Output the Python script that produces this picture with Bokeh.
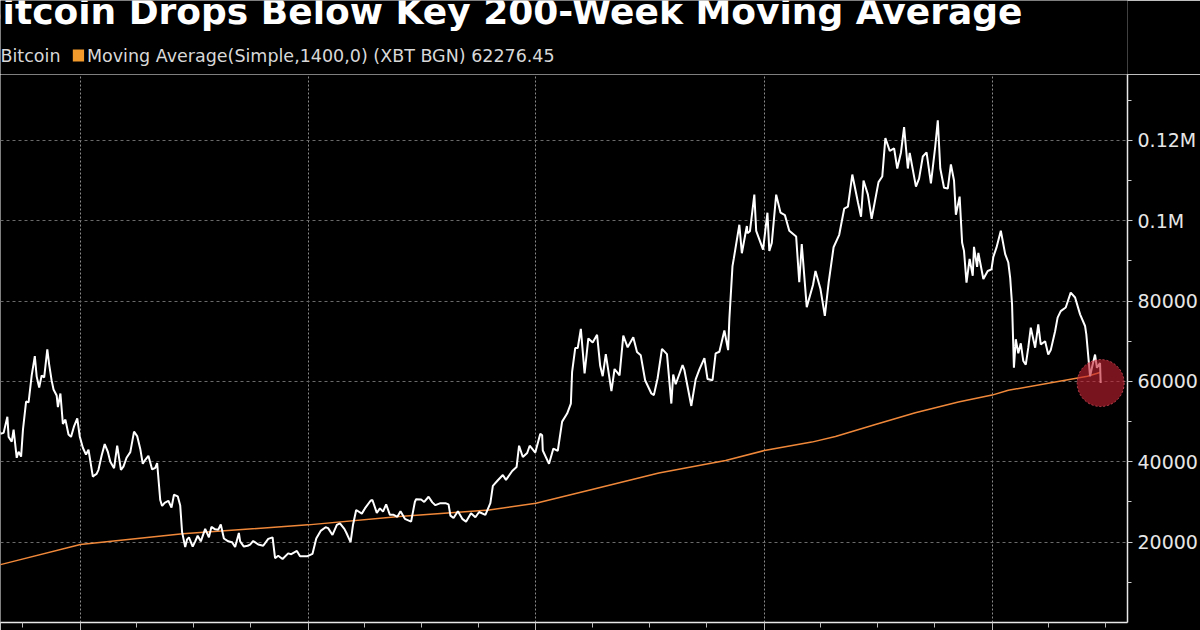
import pandas as pd
from bokeh.plotting import figure
from bokeh.layouts import column
from bokeh.models import Range1d, FixedTicker
from bokeh.core.properties import value
from bokeh.embed import file_html
from bokeh.resources import INLINE

# ---------------- data ----------------
title_text = "Bitcoin Drops Below Key 200-Week Moving Average"
legend_labels = ["Bitcoin", "Moving Average(Simple,1400,0) (XBT BGN) 62276.45"]

btc_dates = [
    "2021-08-20", "2021-08-26", "2021-08-31", "2021-09-06", "2021-09-08", "2021-09-13", "2021-09-16",
    "2021-09-21", "2021-09-24", "2021-09-28", "2021-10-01", "2021-10-06", "2021-10-10", "2021-10-15",
    "2021-10-20", "2021-10-23", "2021-10-27", "2021-10-31", "2021-11-04", "2021-11-09", "2021-11-12",
    "2021-11-16", "2021-11-19", "2021-11-24", "2021-11-26", "2021-11-30", "2021-12-04", "2021-12-08",
    "2021-12-13", "2021-12-17", "2021-12-22", "2021-12-27", "2021-12-31",
    "2022-01-05", "2022-01-10", "2022-01-14", "2022-01-21", "2022-01-24", "2022-01-27", "2022-01-30",
    "2022-02-04", "2022-02-09", "2022-02-14", "2022-02-18", "2022-02-24", "2022-03-01", "2022-03-07",
    "2022-03-11", "2022-03-16", "2022-03-22", "2022-03-28", "2022-04-02", "2022-04-07", "2022-04-11",
    "2022-04-15", "2022-04-20", "2022-04-26", "2022-05-01", "2022-05-04", "2022-05-09", "2022-05-12",
    "2022-05-16", "2022-05-22", "2022-05-27", "2022-05-31", "2022-06-06", "2022-06-10", "2022-06-13",
    "2022-06-18", "2022-06-21", "2022-06-24", "2022-06-30", "2022-07-04", "2022-07-08", "2022-07-13",
    "2022-07-20", "2022-07-26", "2022-07-30", "2022-08-05", "2022-08-10", "2022-08-14", "2022-08-19",
    "2022-08-26", "2022-09-01", "2022-09-06", "2022-09-12", "2022-09-14", "2022-09-20", "2022-09-26",
    "2022-09-30", "2022-10-05", "2022-10-13", "2022-10-21", "2022-10-29", "2022-11-05", "2022-11-09",
    "2022-11-14", "2022-11-21", "2022-11-30", "2022-12-05", "2022-12-14", "2022-12-19", "2022-12-31",
    "2023-01-08", "2023-01-14", "2023-01-21", "2023-01-29", "2023-02-02", "2023-02-09", "2023-02-16",
    "2023-02-21", "2023-02-28", "2023-03-03", "2023-03-10", "2023-03-14", "2023-03-19", "2023-03-28",
    "2023-04-02", "2023-04-11", "2023-04-14", "2023-04-21", "2023-04-26", "2023-05-01", "2023-05-06",
    "2023-05-12", "2023-05-18", "2023-05-24", "2023-05-29", "2023-06-05", "2023-06-15", "2023-06-21",
    "2023-06-23", "2023-07-01", "2023-07-06", "2023-07-13", "2023-07-19", "2023-07-24", "2023-08-01",
    "2023-08-09", "2023-08-14", "2023-08-17", "2023-08-22", "2023-08-29", "2023-09-05", "2023-09-11",
    "2023-09-19", "2023-09-26", "2023-10-02", "2023-10-12", "2023-10-20", "2023-10-24", "2023-11-01",
    "2023-11-09", "2023-11-14", "2023-11-24", "2023-12-01", "2023-12-05", "2023-12-11", "2023-12-18",
    "2023-12-22", "2023-12-31",
    "2024-01-08", "2024-01-11", "2024-01-12", "2024-01-22", "2024-01-29", "2024-02-05", "2024-02-12",
    "2024-02-20", "2024-02-26", "2024-02-28", "2024-03-04", "2024-03-08", "2024-03-13", "2024-03-19",
    "2024-03-25", "2024-04-01", "2024-04-08", "2024-04-13", "2024-04-17", "2024-04-22", "2024-05-01",
    "2024-05-06", "2024-05-14", "2024-05-20", "2024-05-27", "2024-06-05", "2024-06-11", "2024-06-17",
    "2024-06-24", "2024-07-04", "2024-07-08", "2024-07-14", "2024-07-21", "2024-07-29", "2024-08-05",
    "2024-08-08", "2024-08-12", "2024-08-23", "2024-08-26", "2024-09-06", "2024-09-13", "2024-09-19",
    "2024-09-27", "2024-10-02", "2024-10-10", "2024-10-15", "2024-10-21", "2024-10-29", "2024-11-04",
    "2024-11-06", "2024-11-11", "2024-11-13", "2024-11-22", "2024-11-26", "2024-12-04", "2024-12-05",
    "2024-12-09", "2024-12-16", "2024-12-19", "2024-12-30",
    "2025-01-06", "2025-01-09", "2025-01-13", "2025-01-20", "2025-01-27", "2025-02-03", "2025-02-10",
    "2025-02-21", "2025-02-26", "2025-03-02", "2025-03-10", "2025-03-20", "2025-03-24", "2025-04-01",
    "2025-04-08", "2025-04-14", "2025-04-22", "2025-05-01", "2025-05-09", "2025-05-15", "2025-05-22",
    "2025-05-31", "2025-06-05", "2025-06-09", "2025-06-16", "2025-06-22", "2025-07-03", "2025-07-09",
    "2025-07-14", "2025-07-21", "2025-07-28", "2025-08-02", "2025-08-08", "2025-08-13", "2025-08-19",
    "2025-08-22", "2025-09-01", "2025-09-06", "2025-09-12", "2025-09-18", "2025-09-25", "2025-10-02",
    "2025-10-06", "2025-10-10", "2025-10-16", "2025-10-22", "2025-10-27", "2025-11-01", "2025-11-04",
    "2025-11-10", "2025-11-14", "2025-11-17", "2025-11-21", "2025-11-26", "2025-12-01", "2025-12-03",
    "2025-12-08", "2025-12-10", "2025-12-18", "2025-12-25", "2025-12-31",
    "2026-01-03", "2026-01-08", "2026-01-15", "2026-01-22", "2026-01-27", "2026-01-30", "2026-02-02",
    "2026-02-05", "2026-02-08", "2026-02-12", "2026-02-16", "2026-02-20", "2026-02-24", "2026-02-28",
    "2026-03-04", "2026-03-11", "2026-03-16", "2026-03-20", "2026-03-27", "2026-04-01", "2026-04-05",
    "2026-04-12", "2026-04-16", "2026-04-21", "2026-04-29", "2026-05-07", "2026-05-14", "2026-05-22",
    "2026-05-30", "2026-06-01", "2026-06-07", "2026-06-10", "2026-06-15", "2026-06-18", "2026-06-23",
    "2026-06-24",
]
btc_values = [
    49000, 47000, 47200, 51200, 46200, 45000, 48000,
    41000, 42500, 41300, 48000, 55000, 54800, 61500,
    66300, 61200, 58500, 61500, 61000, 68000, 64200,
    60200, 58000, 56500, 53600, 57000, 49400, 50500,
    46800, 46200, 48900, 50800, 46300,
    43500, 41800, 43000, 36300, 36700, 37000, 38000,
    41500, 44400, 42500, 40000, 38400, 44000, 38000,
    38800, 41000, 42400, 47500, 46400, 43200, 39500,
    40500, 41500, 38100, 38500, 39700, 30500, 29000,
    29800, 30300, 28600, 31800, 31400, 29100, 22500,
    18800, 20700, 21200, 18900, 20200, 21600, 20200,
    23300, 21200, 23800, 23200, 23100, 24400, 20900,
    20200, 20000, 18800, 22300, 20200, 18900, 19100,
    19400, 20300, 19400, 19100, 20800, 21200, 16000,
    16600, 15800, 17200, 17000, 17800, 16500, 16500,
    17100, 20900, 22800, 23700, 23500, 21800, 24300,
    24700, 23300, 22400, 20000, 24400, 28000, 27100,
    28400, 30300, 30500, 27300, 28400, 27600, 29400,
    26800, 26800, 26300, 27700, 25800, 25100, 30000,
    30700, 30600, 30000, 31300, 29900, 29200, 29700,
    29700, 29400, 26600, 26000, 27700, 25800, 25100,
    27200, 26200, 27500, 26800, 29700, 34000, 35400,
    36700, 35500, 37700, 38700, 44000, 41200, 42200,
    44000, 42300,
    47000, 46600, 42800, 39500, 43300, 42700, 50000,
    52000, 54500, 62400, 68300, 68300, 73100, 62000,
    70700, 69700, 71600, 63900, 61300, 66800, 57600,
    63100, 61500, 71400, 68500, 71000, 67300, 66500,
    60300, 57000, 56600, 60800, 68100, 66800, 54500,
    61700, 59300, 64100, 62800, 53900, 60500, 63000,
    65800, 60600, 60300, 67000, 67400, 72700, 67800,
    75600, 88700, 90500, 99000, 91900, 98700, 96900,
    97400, 106500, 97500, 92800,
    102000, 92500, 94500, 106500, 102000, 101400, 97500,
    96100, 84700, 94200, 78500, 84000, 87500, 83000,
    76300, 84500, 93400, 96500, 103000, 103500, 111500,
    104600, 101000, 110000, 106500, 100500, 109600, 111000,
    120600, 117400, 118000, 113000, 117000, 123300, 113000,
    116900, 108500, 110500, 116000, 117000, 109300, 118600,
    125000, 113000, 108200, 108000, 114000, 110000, 101500,
    106000, 94500, 92500, 84600, 90500, 86300, 93500,
    88500, 92000, 85500, 87500, 87900,
    91000, 93300, 97500, 91700, 89600, 85800, 79200,
    63400, 70500, 67000, 69500, 65100, 64200, 68400,
    73400, 68400, 74200, 69200, 70000, 66700, 67800,
    72500, 75900, 77500, 78400, 82100, 80900, 76700,
    73800, 71700, 61300, 63400, 66700, 63400, 64600,
    59600,
]

ma_dates = [
    "2021-08-20", "2021-08-26", "2022-01-01", "2022-06-14", "2023-01-01", "2023-05-27",
    "2023-10-18", "2024-01-01", "2024-03-26", "2024-07-16", "2024-10-31", "2025-01-01",
    "2025-03-18", "2025-04-25", "2025-06-28", "2025-08-31", "2025-11-08", "2026-01-01",
    "2026-01-27", "2026-06-03", "2026-06-24",
]
ma_values = [
    14300, 14400, 19400, 22100, 24300, 26400,
    28000, 29700, 32900, 37200, 40300, 42800,
    44900, 46300, 49300, 52200, 54900, 56600,
    57800, 61300, 62276.45,
]

year_ticks = ["2022-01-01", "2023-01-01", "2024-01-01", "2025-01-01", "2026-01-01"]
quarter_ticks = [
    "2021-10-01",
    "2022-04-01", "2022-07-01", "2022-10-01",
    "2023-04-01", "2023-07-01", "2023-10-01",
    "2024-04-01", "2024-07-01", "2024-10-01",
    "2025-04-01", "2025-07-01", "2025-10-01",
    "2026-04-01", "2026-07-01",
]
y_ticks = [20000, 40000, 60000, 80000, 100000, 120000]
y_tick_labels = ["20000", "40000", "60000", "80000", "0.1M", "0.12M"]
y_minor_ticks = [10000, 30000, 50000, 70000, 90000, 110000, 130000]
x_window = ["2021-08-26", "2026-08-06"]
y_window = [0, 136400]

# ---------------- helpers ----------------
def ms(d):
    return pd.Timestamp(d).value // 10**6

btc_x = pd.to_datetime(btc_dates)
ma_x = pd.to_datetime(ma_dates)

BG = "#000000"
FONT = "DejaVu Sans"

# ---------------- header (title + legend) ----------------
header = figure(width=1200, height=74, x_range=Range1d(0, 1200), y_range=Range1d(74, 0),
                output_backend="svg", toolbar_location=None,
                x_axis_location=None, y_axis_location=None,
                background_fill_color=BG, border_fill_color=BG, outline_line_color=None,
                min_border=0)
header.grid.visible = False

header.text(x=[-27], y=[11], text=[title_text], text_font=value(FONT), text_font_style="bold",
            text_font_size="36px", text_color="#ffffff", text_baseline="middle")

header.rect(x=[-10], y=[55], width=12, height=12, fill_color="#ffffff", line_color=None)
header.text(x=[0], y=[55], text=[legend_labels[0]], text_font=value(FONT), text_font_size="17.5px",
            text_color="#d8d8d8", text_baseline="middle")
header.rect(x=[83], y=[55], width=12, height=12, fill_color="#f39a2c", line_color=None)
header.text(x=[92], y=[55], text=[legend_labels[1]], text_font=value(FONT), text_font_size="17.5px",
            text_color="#d8d8d8", text_baseline="middle")

# ---------------- main chart ----------------
p = figure(width=1200, height=556, x_axis_type="datetime", y_axis_location="right",
           x_range=Range1d(pd.Timestamp(x_window[0]), pd.Timestamp(x_window[1])),
           y_range=Range1d(y_window[0], y_window[1]),
           output_backend="svg", toolbar_location=None,
           background_fill_color=BG, border_fill_color=BG, outline_line_color=None,
           min_border_left=0, min_border_top=0, min_border_right=70, min_border_bottom=8)

xt = FixedTicker(ticks=[ms(d) for d in year_ticks], minor_ticks=[ms(d) for d in quarter_ticks])
p.xaxis.ticker = xt
p.xgrid.ticker = xt
p.xaxis.major_label_overrides = {ms(d): "" for d in year_ticks}
p.xaxis.major_label_text_font_size = "0px"
p.xaxis.major_label_standoff = 0
p.xaxis.axis_line_color = "#e8e8e8"
p.xaxis.axis_line_width = 1.5
p.xaxis.major_tick_line_color = "#bbbbbb"
p.xaxis.major_tick_out = 8
p.xaxis.major_tick_in = 0
p.xaxis.minor_tick_line_color = "#bbbbbb"
p.xaxis.minor_tick_out = 5
p.xaxis.minor_tick_in = 0

yt = FixedTicker(ticks=y_ticks, minor_ticks=y_minor_ticks)
p.yaxis.ticker = yt
p.ygrid.ticker = yt
p.yaxis.major_label_overrides = {t: l for t, l in zip(y_ticks, y_tick_labels)}
p.yaxis.major_label_text_font = FONT
p.yaxis.major_label_text_font_size = "19px"
p.yaxis.major_label_text_color = "#e6e6e6"
p.yaxis.major_label_standoff = 5
p.yaxis.axis_line_color = "#e8e8e8"
p.yaxis.axis_line_width = 1.5
p.yaxis.major_tick_line_color = "#cccccc"
p.yaxis.major_tick_out = 5
p.yaxis.major_tick_in = 0
p.yaxis.minor_tick_line_color = "#cccccc"
p.yaxis.minor_tick_out = 4
p.yaxis.minor_tick_in = 0

p.xgrid.grid_line_color = "#8a8a8a"
p.xgrid.grid_line_dash = "2 2"
p.xgrid.grid_line_width = 1
p.ygrid.grid_line_color = "#6a6a6a"
p.ygrid.grid_line_dash = "3 3"
p.ygrid.grid_line_width = 1

p.line(ma_x, ma_values, line_color="#f0883a", line_width=1.5)
p.line(btc_x, btc_values, line_color="#ffffff", line_width=2)

p.scatter([btc_x[-1]], [btc_values[-1]], size=47, marker="circle",
          fill_color="#c0202e", fill_alpha=0.62,
          line_color="#e05060", line_alpha=0.8, line_dash="2 2", line_width=1)

layout = column(header, p, spacing=0)

with open("out.html", "w") as f:
    f.write(file_html(layout, INLINE))
